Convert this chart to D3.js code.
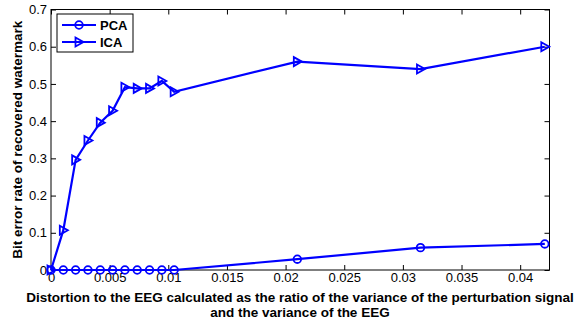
<!DOCTYPE html>
<html>
<head>
    <meta charset="utf-8" />
    <script src="https://d3js.org/d3.v7.min.js"></script>
    <style>
        body { margin: 0; background: #fff; }
        text { font-family: "Liberation Sans", Arial, sans-serif; }
    </style>
</head>
<body>
<script type="text/javascript">
    // data
    var distortion = [0, 0.00105, 0.0021, 0.00315, 0.0042, 0.00525, 0.0063, 0.00735,
                      0.0084, 0.00945, 0.0105, 0.021, 0.0315, 0.0421];
    var pcaBer = [0, 0, 0, 0, 0, 0, 0, 0, 0, 0, 0, 0.029, 0.06, 0.07];
    var icaBer = [0, 0.107, 0.296, 0.348, 0.396, 0.428, 0.491, 0.488, 0.488, 0.508, 0.479,
                  0.56, 0.54, 0.60];
    var xTicks = [0, 0.005, 0.01, 0.015, 0.02, 0.025, 0.03, 0.035, 0.04];
    var yTicks = [0, 0.1, 0.2, 0.3, 0.4, 0.5, 0.6, 0.7];
    var seriesNames = ["PCA", "ICA"];

    var w = 574, h = 324;
    var margin = {top: 9.5, right: 24.5, bottom: 54, left: 51};
    var iw = w - margin.left - margin.right,
        ih = h - margin.top - margin.bottom;

    var svg = d3.select("body").append("svg")
                .attr("width", w).attr("height", h);

    var g = svg.append("g")
               .attr("transform", "translate(" + margin.left + "," + margin.top + ")");

    var x = d3.scaleLinear().domain([0, 0.0425]).range([0, iw]);
    var y = d3.scaleLinear().domain([0, 0.7]).range([ih, 0]);

    // axes with inward ticks, mirrored on top/right
    var fmt = function(d){ return d === 0 ? "0" : String(+d.toFixed(3)); };

    g.append("g").attr("transform", "translate(0," + ih + ")")
     .call(d3.axisBottom(x).tickValues(xTicks).tickSizeInner(-5).tickSizeOuter(0)
            .tickPadding(3).tickFormat(fmt));
    g.append("g")
     .call(d3.axisLeft(y).tickValues(yTicks).tickSizeInner(-5).tickSizeOuter(0)
            .tickPadding(4).tickFormat(fmt));
    g.append("g")
     .call(d3.axisTop(x).tickValues(xTicks).tickSizeInner(-5).tickSizeOuter(0).tickFormat(""));
    g.append("g").attr("transform", "translate(" + iw + ",0)")
     .call(d3.axisRight(y).tickValues(yTicks).tickSizeInner(-5).tickSizeOuter(0).tickFormat(""));

    g.selectAll(".domain").remove();
    g.selectAll(".tick line").attr("stroke", "#000");
    g.selectAll(".tick text").attr("fill", "#000").style("font-size", "13px")
     .style("font-family", "'Liberation Sans', Arial, sans-serif");

    g.append("rect").attr("width", iw).attr("height", ih)
     .attr("fill", "none").attr("stroke", "#000").attr("stroke-width", 1);

    var blue = "#0000ff";
    var line = d3.line().x(function(d){ return x(d[0]); }).y(function(d){ return y(d[1]); });
    var pca = d3.zip(distortion, pcaBer);
    var ica = d3.zip(distortion, icaBer);

    var tri = "M-3.5,-4.5 L4.5,0 L-3.5,4.5 Z";

    g.append("path").datum(pca).attr("d", line)
     .attr("fill", "none").attr("stroke", blue).attr("stroke-width", 2.2);
    g.append("path").datum(ica).attr("d", line)
     .attr("fill", "none").attr("stroke", blue).attr("stroke-width", 2.2);

    g.selectAll(".pcaMark").data(pca).enter().append("circle")
     .attr("cx", function(d){ return x(d[0]); })
     .attr("cy", function(d){ return y(d[1]); })
     .attr("r", 3.8).attr("fill", "none").attr("stroke", blue).attr("stroke-width", 1.8);

    g.selectAll(".icaMark").data(ica).enter().append("path")
     .attr("d", tri)
     .attr("transform", function(d){ return "translate(" + x(d[0]) + "," + y(d[1]) + ")"; })
     .attr("fill", "none").attr("stroke", blue).attr("stroke-width", 1.8);

    // legend
    var lg = svg.append("g").attr("transform", "translate(57,14)");
    lg.append("rect").attr("width", 76).attr("height", 38)
      .attr("fill", "#fff").attr("stroke", "#000").attr("stroke-width", 1);
    seriesNames.forEach(function(name, i){
        var ly = 11 + i * 17;
        lg.append("line").attr("x1", 5).attr("x2", 39).attr("y1", ly).attr("y2", ly)
          .attr("stroke", blue).attr("stroke-width", 2.2);
        if (i === 0) {
            lg.append("circle").attr("cx", 22).attr("cy", ly).attr("r", 3.8)
              .attr("fill", "none").attr("stroke", blue).attr("stroke-width", 1.8);
        } else {
            lg.append("path").attr("d", tri).attr("transform", "translate(22," + ly + ")")
              .attr("fill", "none").attr("stroke", blue).attr("stroke-width", 1.8);
        }
        lg.append("text").attr("x", 43).attr("y", ly + 4.5)
          .style("font-size", "13px").style("font-weight", "bold").text(name);
    });

    // axis labels
    svg.append("text")
       .attr("transform", "translate(22," + (margin.top + ih / 2) + ") rotate(-90)")
       .attr("text-anchor", "middle").style("font-size", "13.5px").style("font-weight", "bold")
       .text("Bit error rate of recovered watermark");

    svg.append("text").attr("x", 300).attr("y", 302)
       .attr("text-anchor", "middle").style("font-size", "13.5px").style("font-weight", "bold")
       .text("Distortion to the EEG calculated as the ratio of the variance of the perturbation signal");
    svg.append("text").attr("x", 300).attr("y", 317)
       .attr("text-anchor", "middle").style("font-size", "13.5px").style("font-weight", "bold")
       .text("and the variance of the EEG");
</script>
</body>
</html>
